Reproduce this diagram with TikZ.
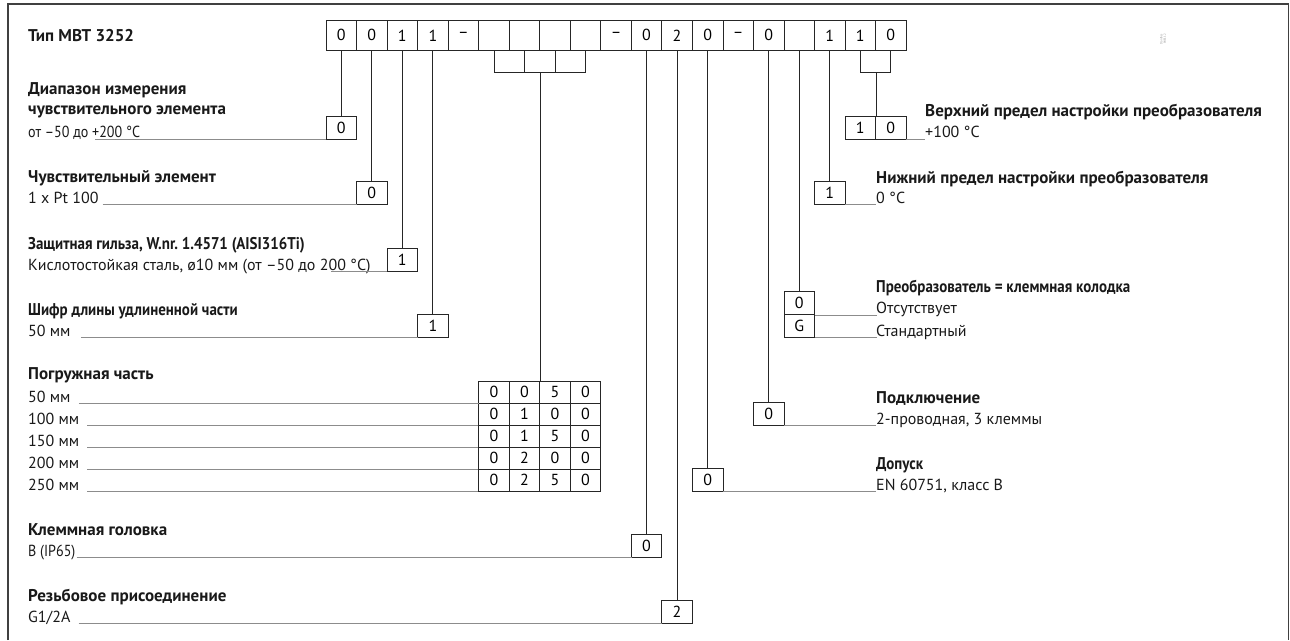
\documentclass[tikz,border=0pt]{standalone}
\usepackage{fontspec}
\setmainfont{PT Sans}
\newfontfamily\condfont{PT Sans}[FakeStretch=0.88]
\usetikzlibrary{positioning}
\frenchspacing

\begin{document}
\begin{tikzpicture}[x=1pt, y=-1pt,
    cell/.style={rectangle, draw=black!85, line width=0.8pt, minimum width=30.53pt, minimum height=30.7pt, inner sep=0pt, font=\fontsize{16}{19}\selectfont},
    sel/.style={cell, minimum height=22.8pt},
    tcell/.style={cell, minimum height=22pt},
    txt/.style={anchor=base west, inner sep=0pt, text=black!90, font=\fontsize{16}{19}\selectfont},
    txtc/.style={txt, font=\condfont\fontsize{16}{19}\selectfont},
    ttl/.style={txt, font=\fontsize{17}{20}\selectfont\bfseries},
    ttlc/.style={txt, font=\condfont\fontsize{17}{20}\selectfont\bfseries},
    wire/.style={line width=0.8pt, black!85},
    leader/.style={black!45, line width=0.5pt, dash pattern=on 0.5pt off 0.5pt},
    frame/.style={line width=1.3pt, black!75}
]
    \useasboundingbox (0,0) rectangle (1290,640);

    % Frame
    \draw[frame] (8,640) -- (8,4) -- (1288.5,4) -- (1288.5,640);
    \node[rotate=90, align=center, text=black!45, font=\fontsize{3}{3.5}\selectfont] (dwg) at (1163,39) {Danfoss\\84E112};

    % Type code
    \node[ttl] (typ) at (28,41) {Тип MBT 3252};
    \node[cell] (d1) at (341.27,35.35) {0};
    \node[cell] (d2) at (371.80,35.35) {0};
    \node[cell] (d3) at (402.33,35.35) {1};
    \node[cell] (d4) at (432.86,35.35) {1};
    \node[cell] (d5) at (463.39,35.35) {–};
    \node[cell] (d6) at (493.92,35.35) {};
    \node[cell] (d7) at (524.45,35.35) {};
    \node[cell] (d8) at (554.98,35.35) {};
    \node[cell] (d9) at (585.51,35.35) {};
    \node[cell] (d10) at (616.04,35.35) {–};
    \node[cell] (d11) at (646.57,35.35) {0};
    \node[cell] (d12) at (677.10,35.35) {2};
    \node[cell] (d13) at (707.63,35.35) {0};
    \node[cell] (d14) at (738.16,35.35) {–};
    \node[cell] (d15) at (768.69,35.35) {0};
    \node[cell] (d16) at (799.22,35.35) {};
    \node[cell] (d17) at (829.75,35.35) {1};
    \node[cell] (d18) at (860.28,35.35) {1};
    \node[cell] (d19) at (890.81,35.35) {0};
    \coordinate (brk) at (0,72);

    % Sensor range
    \node[ttl] (rngt) at (28,94) {Диапазон измерения};
    \node[ttl] (rngt2) at (28,114) {чувствительного элемента};
    \node[txtc] (rngv) at (28,137) {от –50 до +200 °C};
    \node[sel] (rng) at (341.27,127.6) {0};

    % Sensor element
    \node[ttl] (senst) at (28,182) {Чувствительный элемент};
    \node[txt] (sensv) at (28,203) {1 x Pt 100};
    \node[sel] (sens) at (371.80,192.9) {0};

    % Protection tube
    \node[ttlc] (tubet) at (28,249) {Защитная гильза, W.nr. 1.4571 (AISI316Ti)};
    \node[txt] (tubev) at (28,270) {Кислотостойкая сталь, ø10 мм (от –50 до 200 °C)};
    \node[sel] (tube) at (402.33,259.6) {1};

    % Extension length
    \node[ttlc] (extt) at (28,315) {Шифр длины удлиненной части};
    \node[txt] (extv) at (28,336) {50 мм};
    \node[sel] (ext) at (432.86,325.5) {1};

    % Immersion length
    \node[ttl] (imt) at (28,379) {Погружная часть};
    \node[txt] (im1) at (28,402.5) {50 мм};
    \node[txt] (im2) at (28,424.5) {100 мм};
    \node[txt] (im3) at (28,446.5) {150 мм};
    \node[txt] (im4) at (28,468.5) {200 мм};
    \node[txt] (im5) at (28,490.5) {250 мм};
    \node[tcell] (p1a) at (493.92,392) {0};
    \node[tcell] (p1b) at (524.45,392) {0};
    \node[tcell] (p1c) at (554.98,392) {5};
    \node[tcell] (p1d) at (585.51,392) {0};
    \node[tcell] (p2a) at (493.92,414) {0};
    \node[tcell] (p2b) at (524.45,414) {1};
    \node[tcell] (p2c) at (554.98,414) {0};
    \node[tcell] (p2d) at (585.51,414) {0};
    \node[tcell] (p3a) at (493.92,436) {0};
    \node[tcell] (p3b) at (524.45,436) {1};
    \node[tcell] (p3c) at (554.98,436) {5};
    \node[tcell] (p3d) at (585.51,436) {0};
    \node[tcell] (p4a) at (493.92,458) {0};
    \node[tcell] (p4b) at (524.45,458) {2};
    \node[tcell] (p4c) at (554.98,458) {0};
    \node[tcell] (p4d) at (585.51,458) {0};
    \node[tcell] (p5a) at (493.92,480) {0};
    \node[tcell] (p5b) at (524.45,480) {2};
    \node[tcell] (p5c) at (554.98,480) {5};
    \node[tcell] (p5d) at (585.51,480) {0};

    % Terminal head
    \node[ttl] (headt) at (28,535) {Клеммная головка};
    \node[txtc] (headv) at (28,556) {B (IP65)};
    \node[sel] (head) at (646.57,545.6) {0};

    % Thread
    \node[ttl] (thrt) at (28,601) {Резьбовое присоединение};
    \node[txt] (thrv) at (28,622) {G1/2A};
    \node[sel] (thr) at (677.10,611.5) {2};

    % Upper range limit
    \node[sel] (hi1) at (860.28,127.6) {1};
    \node[sel] (hi0) at (890.81,127.6) {0};
    \node[ttl] (hit) at (925,116) {Верхний предел настройки преобразователя};
    \node[txt] (hiv) at (925,137.5) {+100 °C};

    % Lower range limit
    \node[sel] (lo) at (829.75,192.9) {1};
    \node[ttl] (lot) at (876,183) {Нижний предел настройки преобразователя};
    \node[txt] (lov) at (876,203.5) {0 °C};

    % Transmitter
    \node[sel] (tr0) at (799.22,303) {0};
    \node[sel] (trg) at (799.22,325.7) {G};
    \node[ttlc] (trt) at (876,292) {Преобразователь = клеммная колодка};
    \node[txt] (trv0) at (876,313.5) {Отсутствует};
    \node[txt] (trvg) at (876,336) {Стандартный};

    % Connection
    \node[sel] (conn) at (768.69,413.7) {0};
    \node[ttl] (connt) at (876,403) {Подключение};
    \node[txt] (connv) at (876,424.5) {2-проводная, 3 клеммы};

    % Tolerance
    \node[sel] (tol) at (707.63,479.5) {0};
    \node[ttlc] (tolt) at (876,469) {Допуск};
    \node[txt] (tolv) at (876,490.5) {EN 60751, класс B};

    % Connectors
    \draw[wire] (d1.south) -- (rng.north);
    \draw[wire] (d2.south) -- (sens.north);
    \draw[wire] (d3.south) -- (tube.north);
    \draw[wire] (d4.south) -- (ext.north);
    \draw[wire] (d6.south) -- (d6.south |- brk) -- (d9.south |- brk) -- (d9.south);
    \draw[wire] (d7.south) -- (d7.south |- brk);
    \draw[wire] (d8.south) -- (d8.south |- brk);
    \draw[wire] (p1b.north east |- brk) -- (p1b.north east);
    \draw[wire] (d11.south) -- (head.north);
    \draw[wire] (d12.south) -- (thr.north);
    \draw[wire] (d13.south) -- (tol.north);
    \draw[wire] (d15.south) -- (conn.north);
    \draw[wire] (d16.south) -- (tr0.north);
    \draw[wire] (d17.south) -- (lo.north);
    \draw[wire] (d18.south) -- (d18.south |- brk) -- (d19.south |- brk) -- (d19.south);
    \draw[wire] (hi1.north east |- brk) -- (hi1.north east);

    % Leaders
    \draw[leader] ([xshift=-45pt]rngv.base east |- rng.south) -- (rng.south west);
    \draw[leader] ([xshift=4pt]sensv.base east |- sens.south) -- (sens.south west);
    \draw[leader] ([xshift=-40pt]tubev.base east |- tube.south) -- (tube.south west);
    \draw[leader] ([xshift=10pt]extv.base east |- ext.south) -- (ext.south west);
    \draw[leader] ([xshift=8pt]im1.base east |- p1a.south) -- (p1a.south west);
    \draw[leader] ([xshift=8pt]im2.base east |- p2a.south) -- (p2a.south west);
    \draw[leader] ([xshift=8pt]im3.base east |- p3a.south) -- (p3a.south west);
    \draw[leader] ([xshift=8pt]im4.base east |- p4a.south) -- (p4a.south west);
    \draw[leader] ([xshift=8pt]im5.base east |- p5a.south) -- (p5a.south west);
    \draw[leader] ([xshift=1pt]headv.base east |- head.south) -- (head.south west);
    \draw[leader] ([xshift=8pt]thrv.base east |- thr.south) -- (thr.south west);
    \draw[leader] (hi0.south east) -- (hiv.base west |- hi0.south);
    \draw[leader] (lo.south east) -- (lov.base west |- lo.south);
    \draw[leader] (tr0.south east) -- (trv0.base west |- tr0.south);
    \draw[leader] (trg.south east) -- (trvg.base west |- trg.south);
    \draw[leader] (conn.south east) -- (connv.base west |- conn.south);
    \draw[leader] (tol.south east) -- (tolv.base west |- tol.south);

\end{tikzpicture}
\end{document}
